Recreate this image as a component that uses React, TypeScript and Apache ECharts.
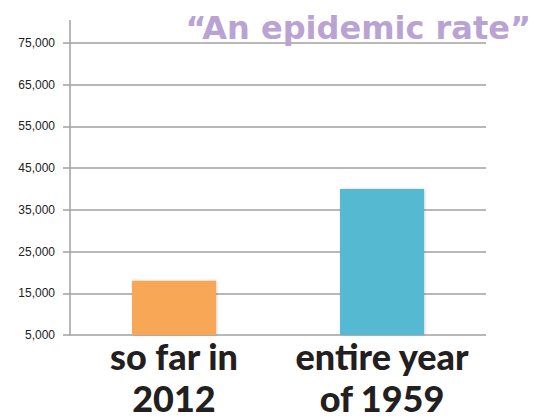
import React, { useEffect, useRef } from "react";
import * as echarts from "echarts";

const categories = ["so far in\n2012", "entire year\nof 1959"];
const values = [18000, 40000];
const barColors = ["#F7A757", "#57B9D2"];
const yMin = 5000;
const yMax = 75000;
const yStep = 10000;
const titleText = "\u201CAn epidemic rate\u201D";

export default function App() {
  const ref = useRef<HTMLDivElement>(null);
  useEffect(() => {
    document.body.style.margin = "0";
    if (!ref.current) return;
    const chart = echarts.init(ref.current, undefined, { renderer: "svg" });
    chart.setOption({
      animation: false,
      backgroundColor: "#ffffff",
      title: {
        text: titleText,
        right: 9,
        top: 7,
        textStyle: {
          fontFamily: "DejaVu Sans",
          fontWeight: "bold",
          fontSize: 32,
          color: "#B9A3D3",
        },
      },
      grid: {
        left: 70,
        right: 59,
        top: 43,
        bottom: 85,
        containLabel: false,
        outerBoundsMode: "none",
      },
      xAxis: {
        type: "category",
        data: categories,
        axisLine: { show: false },
        axisTick: { show: false },
        axisLabel: {
          interval: 0,
          margin: 0,
          fontFamily: "Lato",
          fontWeight: 900,
          fontSize: 36,
          lineHeight: 42,
          color: "#231F20",
        },
      },
      yAxis: {
        type: "value",
        min: yMin,
        max: yMax,
        interval: yStep,
        axisLine: { show: true, lineStyle: { color: "#A0A0A0", width: 1.5 } },
        axisTick: { show: true, length: 7, lineStyle: { color: "#A0A0A0", width: 1.5 } },
        splitLine: { show: true, lineStyle: { color: "#A0A0A0", width: 1.5 } },
        axisLabel: {
          margin: 15,
          fontFamily: "Liberation Sans",
          fontSize: 12,
          color: "#222222",
          formatter: (v: number) => v.toLocaleString("en-US"),
        },
      },
      graphic: [
        {
          type: "line",
          shape: { x1: 70, y1: 20, x2: 70, y2: 43 },
          style: { stroke: "#A0A0A0", lineWidth: 1.5 },
          z: 0,
        },
      ],
      series: [
        {
          type: "bar",
          barWidth: 84,
          data: values.map((v, i) => ({
            value: v,
            itemStyle: {
              color: barColors[i],
              shadowColor: "rgba(0,0,0,0.18)",
              shadowBlur: 3,
              shadowOffsetX: 1,
              shadowOffsetY: 0,
            },
          })),
        },
      ],
    });
    return () => chart.dispose();
  }, []);
  return <div ref={ref} style={{ width: 545, height: 420 }} />;
}
